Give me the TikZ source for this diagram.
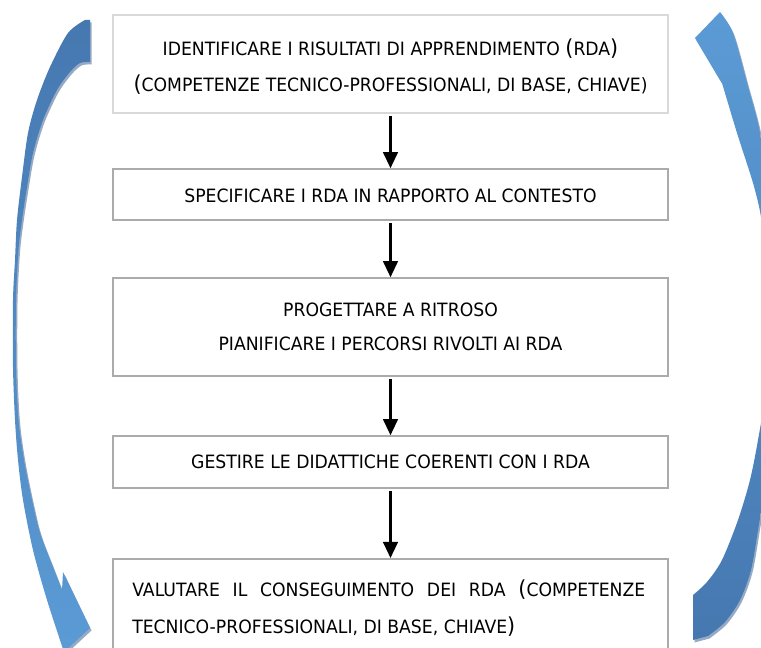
\documentclass[tikz,border=0pt]{standalone}
\usepackage{fontspec}
\setmainfont{DejaVu Sans}[FakeStretch=0.94]
\usetikzlibrary{arrows.meta}
\definecolor{boxlight}{HTML}{D9D9D9}
\definecolor{boxgray}{HTML}{ABABAB}
\definecolor{arrdark}{RGB}{70,120,176}
\definecolor{arrlight}{RGB}{91,155,213}
\definecolor{arrshadow}{RGB}{150,170,196}
\newcommand\mainfs{\fontsize{13.75}{27}\selectfont}
\newcommand\bigp[1]{{\fontsize{16.5}{16.5}\selectfont #1}}
\newcommand\leftarrowshape[1]{%
 \path[#1] (90,20) -- plot[smooth] coordinates {(85,20) (68,33) (50,67) (37,100) (28,133) (22,177) (17,220) (15,260) (13,300) (13,367) (15,420) (18,460) (23,500) (33,550) (47,600) (64,652)}
 -- (90,628) -- (63,572) -- plot[smooth] coordinates {(62,590) (53,567) (40,533) (32,500) (24,460) (18.5,420) (16,367) (16,300) (18.5,250) (22,220) (27,187) (33,153) (43,120) (57,90) (70,72) (80,63) (90,62)} -- cycle;}
\newcommand\rightarrowshape[1]{%
 \path[#1] (695,38) -- (720,80) -- plot[smooth] coordinates {(722,83) (737,133) (753,183) (761,217) (765,260) (767,330) (764,400) (758,440) (750,480) (738,520) (722,560) (707,582) (693,595)}
 -- (693,640) -- plot[smooth] coordinates {(708,636) (725,622) (740,600) (751,570) (758,530) (764,490) (770,420) (773,330) (771,250) (766,190) (760,133) (747,83) (733,33) (720,12)} -- cycle;}
\begin{document}
\begin{tikzpicture}[x=0.75pt,y=-0.75pt,
  box/.style={draw=boxgray, line width=1.2pt, minimum width=416.25pt, inner sep=0pt, align=center, font=\mainfs},
  txt/.style={inner sep=0pt, font=\mainfs},
  conn/.style={-{Triangle[length=12pt,width=11pt]}, line width=1.6pt, shorten <=2pt}]
\clip (0,0) rectangle (761,648);
% curved arrows
\leftarrowshape{fill=arrshadow, shift={(1.5,2.5)}}
\leftarrowshape{top color=arrdark, bottom color=arrlight}
\rightarrowshape{fill=arrshadow, shift={(1.5,2.5)}}
\rightarrowshape{top color=arrlight, bottom color=arrdark}
% boxes
\node[box, draw=boxlight, minimum height=73.5pt] (b1) at (390.5,64)
  {\rule{0pt}{17pt}IDENTIFICARE I RISULTATI DI APPRENDIMENTO \bigp{(}RDA\bigp{)}\\
   \bigp{(}COMPETENZE TECNICO-PROFESSIONALI, DI BASE, CHIAVE)};
\node[box, minimum height=38.25pt] (b2) at (390.5,194.5)
  {\rule{0pt}{12pt}SPECIFICARE I RDA IN RAPPORTO AL CONTESTO};
\node[box, minimum height=73.5pt, font={\fontsize{13.75}{25.5}\selectfont}] (b3) at (390.5,327)
  {PROGETTARE A RITROSO\\PIANIFICARE I PERCORSI RIVOLTI AI RDA};
\node[box, minimum height=39pt] (b4) at (390.5,462)
  {GESTIRE LE DIDATTICHE COERENTI CON I RDA};
\node[box, minimum height=90pt, anchor=north] (b5) at (390.5,558) {};
\node[txt, anchor=base west] (t5a) at (132,596.5)
  {\makebox[384.75pt][s]{VALUTARE IL CONSEGUIMENTO DEI RDA \bigp{(}COMPETENZE}};
\node[txt, anchor=base west] (t5b) at (132,633.5)
  {TECNICO-PROFESSIONALI, DI BASE, CHIAVE\bigp{)}};
% connectors
\draw[conn] (b1) -- (b2);
\draw[conn] (b2) -- (b3);
\draw[conn] (b3) -- (b4);
\draw[conn] (b4) -- (b5);
\end{tikzpicture}
\end{document}
